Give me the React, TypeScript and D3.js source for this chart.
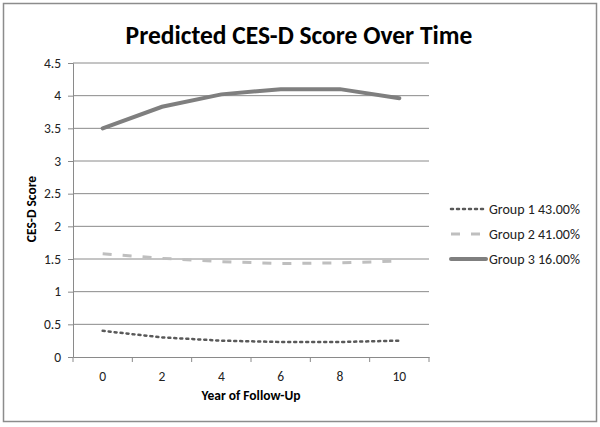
import { useEffect, useRef } from "react";
import * as d3 from "d3";

// years shown on the category axis
const years = ["0", "2", "4", "6", "8", "10"];
const group1 = [0.4, 0.3, 0.25, 0.23, 0.23, 0.25];
const group2 = [1.58, 1.51, 1.46, 1.43, 1.44, 1.47];
const group3 = [3.5, 3.83, 4.02, 4.1, 4.1, 3.96];
const seriesNames = ["Group 1 43.00%", "Group 2 41.00%", "Group 3 16.00%"];
const yTicks = [0, 0.5, 1, 1.5, 2, 2.5, 3, 3.5, 4, 4.5];

const font = "Carlito, 'Open Sans', 'Liberation Sans', sans-serif";

export default function App() {
  const ref = useRef<SVGSVGElement>(null);

  useEffect(() => {
    const svg = d3.select(ref.current);
    svg.selectAll("*").remove();

    // outer frame
    svg
      .append("rect")
      .attr("x", 3.5)
      .attr("y", 3.5)
      .attr("width", 593)
      .attr("height", 418)
      .attr("fill", "#fff")
      .attr("stroke", "#8c8c8c")
      .attr("stroke-width", 1.5);

    svg
      .append("text")
      .attr("x", 299)
      .attr("y", 44)
      .attr("text-anchor", "middle")
      .attr("font-family", font)
      .attr("font-weight", "bold")
      .attr("font-size", 25.5)
      .attr("fill", "#000")
      .text("Predicted CES-D Score Over Time");

    const x = d3.scaleBand().domain(years).range([73, 429]);
    const y = d3.scaleLinear().domain([0, 4.5]).range([357, 63]);

    // gridlines
    svg
      .append("g")
      .selectAll("line")
      .data(yTicks.filter((t) => t > 0))
      .enter()
      .append("line")
      .attr("x1", 73)
      .attr("x2", 429)
      .attr("y1", (d) => y(d))
      .attr("y2", (d) => y(d))
      .attr("stroke", "#8a8a8a")
      .attr("stroke-width", 1);

    // y axis
    const yAxis = svg
      .append("g")
      .attr("transform", "translate(73,0)")
      .call(
        d3
          .axisLeft(y)
          .tickValues(yTicks)
          .tickSize(5)
          .tickPadding(7)
          .tickFormat((d) => String(d))
      );
    yAxis.select(".domain").attr("stroke", "#8a8a8a");
    yAxis.selectAll(".tick line").attr("stroke", "#8a8a8a");
    yAxis
      .selectAll(".tick text")
      .attr("font-family", font)
      .attr("font-size", 13.5)
      .attr("fill", "#222");

    // x axis
    const xAxis = svg
      .append("g")
      .attr("transform", "translate(0,357)")
      .call(d3.axisBottom(x).tickSize(0).tickPadding(14));
    xAxis.select(".domain").attr("stroke", "#8a8a8a");
    xAxis
      .selectAll(".tick text")
      .attr("font-family", font)
      .attr("font-size", 13.5)
      .attr("fill", "#222");
    // category boundary ticks
    const bounds = years.map((d) => x(d) as number).concat([x.range()[1]]);
    svg
      .append("g")
      .selectAll("line")
      .data(bounds)
      .enter()
      .append("line")
      .attr("x1", (d) => d)
      .attr("x2", (d) => d)
      .attr("y1", 357)
      .attr("y2", 362)
      .attr("stroke", "#8a8a8a");

    svg
      .append("text")
      .attr("x", 251)
      .attr("y", 400)
      .attr("text-anchor", "middle")
      .attr("font-family", font)
      .attr("font-weight", "bold")
      .attr("font-size", 13.5)
      .text("Year of Follow-Up");

    svg
      .append("text")
      .attr("transform", "translate(36,209) rotate(-90)")
      .attr("text-anchor", "middle")
      .attr("font-family", font)
      .attr("font-weight", "bold")
      .attr("font-size", 13.5)
      .text("CES-D Score");

    const styles = [
      { color: "#595959", width: 2.5, dash: "2,4", cap: "round" },
      { color: "#bfbfbf", width: 3, dash: "9,11", cap: "butt" },
      { color: "#7f7f7f", width: 4, dash: null, cap: "round" },
    ];
    const data = [group1, group2, group3];

    const line = d3
      .line<number>()
      .x((_, i) => (x(years[i]) as number) + x.bandwidth() / 2)
      .y((d) => y(d));

    data.forEach((vals, i) => {
      const s = styles[i];
      svg
        .append("path")
        .datum(vals)
        .attr("d", line)
        .attr("fill", "none")
        .attr("stroke", s.color)
        .attr("stroke-width", s.width)
        .attr("stroke-linecap", s.cap)
        .attr("stroke-dasharray", s.dash);
    });

    // legend
    const legend = svg
      .append("g")
      .selectAll("g")
      .data(seriesNames)
      .enter()
      .append("g")
      .attr("transform", (d, i) => "translate(450," + (209 + i * 25) + ")");
    legend
      .append("line")
      .attr("x1", 1)
      .attr("x2", 36)
      .attr("stroke", (d, i) => styles[i].color)
      .attr("stroke-width", (d, i) => styles[i].width)
      .attr("stroke-linecap", (d, i) => styles[i].cap)
      .attr("stroke-dasharray", (d, i) => styles[i].dash);
    legend
      .append("text")
      .attr("x", 39)
      .attr("y", 4.5)
      .attr("font-family", font)
      .attr("font-size", 14)
      .attr("fill", "#222")
      .text((d) => d);
  }, []);

  return (
    <svg
      ref={ref}
      width={600}
      height={427}
      style={{ position: "absolute", left: 0, top: 0 }}
    ></svg>
  );
}
